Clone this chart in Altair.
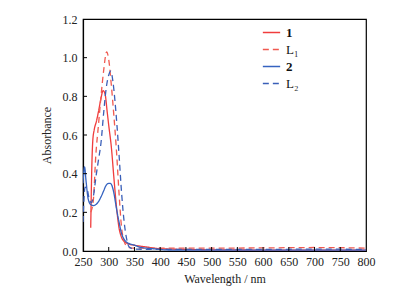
import altair as alt
import pandas as pd

# Series "1" (solid red)
x1 = [265, 267, 269, 272, 276, 280, 285, 289, 293, 297, 300, 305, 310, 315, 320, 325, 330, 335, 340, 350, 375, 400, 450, 500, 600, 700, 800]
y1 = [0.12, 0.42, 0.57, 0.63, 0.67, 0.72, 0.79, 0.83, 0.81, 0.72, 0.65, 0.54, 0.38, 0.23, 0.12, 0.07, 0.05, 0.04, 0.035, 0.03, 0.02, 0.012, 0.008, 0.006, 0.005, 0.005, 0.005]

# Series "L1" (dashed red)
xL1 = [265, 270, 275, 280, 285, 290, 296, 300, 305, 310, 315, 320, 325, 330, 335, 340, 350, 400, 500, 600, 700, 800]
yL1 = [0.2, 0.26, 0.5, 0.65, 0.8, 0.93, 1.03, 0.99, 0.86, 0.7, 0.52, 0.3, 0.12, 0.05, 0.025, 0.018, 0.015, 0.015, 0.015, 0.016, 0.018, 0.015]

# Series "2" (solid blue)
x2 = [250, 253, 256, 260, 265, 270, 275, 280, 285, 290, 295, 300, 303, 306, 310, 315, 320, 325, 330, 335, 340, 350, 360, 385, 420, 500, 600, 700, 800]
y2 = [0.35, 0.435, 0.36, 0.27, 0.24, 0.235, 0.24, 0.255, 0.28, 0.31, 0.34, 0.35, 0.35, 0.34, 0.3, 0.22, 0.15, 0.09, 0.06, 0.045, 0.038, 0.03, 0.02, 0.012, 0.005, 0.005, 0.005, 0.005, 0.005]

# Series "L2" (dashed blue)
xL2 = [250, 254, 258, 262, 266, 270, 275, 280, 285, 290, 295, 300, 304, 308, 312, 316, 320, 325, 330, 335, 340, 350, 400, 500, 600, 700, 800]
yL2 = [0.15, 0.33, 0.32, 0.27, 0.25, 0.28, 0.38, 0.47, 0.56, 0.71, 0.84, 0.91, 0.93, 0.88, 0.78, 0.65, 0.5, 0.3, 0.15, 0.06, 0.02, 0.01, 0.008, 0.008, 0.008, 0.01, 0.008]

series_names = ["1", "L₁", "2", "L₂"]
series_colors = ["#f03c3c", "#f05a50", "#3563c0", "#3a5fb8"]
series_dash = [[1, 0], [6, 4], [1, 0], [6, 4]]

x_labels = [250, 300, 350, 400, 450, 500, 550, 600, 650, 700, 750, 800]
y_labels = [0, 0.2, 0.4, 0.6, 0.8, 1.0, 1.2]
x_ticks = [300, 350, 400, 450, 500, 550, 600, 650, 700, 750]
y_ticks = [0.2, 0.4, 0.6, 0.8, 1.0]

rows = []
for name, xs, ys in [("1", x1, y1), ("L₁", xL1, yL1), ("2", x2, y2), ("L₂", xL2, yL2)]:
    for i, (a, b) in enumerate(zip(xs, ys)):
        rows.append({"series": name, "wl": a, "abs": b, "order": i})
df = pd.DataFrame(rows)

W, H = 283, 232
FONT = "Liberation Serif"

xscale = alt.Scale(domain=[250, 800], nice=False)
yscale = alt.Scale(domain=[0, 1.2], nice=False)

def xaxis():
    return alt.Axis(title="Wavelength / nm", values=x_labels, labelOverlap=False, labelFlush=False,
                    tickSize=0, labelPadding=5, titlePadding=6, grid=False)

def yaxis():
    return alt.Axis(title="Absorbance", values=y_labels, format=".1f", labelOverlap=False, labelFlush=False,
                    tickSize=0, labelPadding=6, titlePadding=9, grid=False)

bold_expr = alt.ExprRef("datum.label == '1' || datum.label == '2' ? 'bold' : 'normal'")

def make_legend():
    return alt.Legend(title=None, orient="none", legendX=179, legendY=4,
                      symbolType="stroke", symbolSize=300, symbolStrokeWidth=1.3,
                      labelFont=FONT, labelFontSize=13, labelOffset=5, rowPadding=0,
                      labelColor="#111", labelFontWeight=bold_expr, padding=0)

lines = alt.Chart(df).mark_line(strokeWidth=1.3, interpolate="monotone", clip=True).encode(
    x=alt.X("wl:Q", scale=xscale, axis=xaxis()),
    y=alt.Y("abs:Q", scale=yscale, axis=yaxis()),
    color=alt.Color("series:N", sort=series_names,
                    scale=alt.Scale(domain=series_names, range=series_colors),
                    legend=make_legend()),
    strokeDash=alt.StrokeDash("series:N", sort=series_names,
                              scale=alt.Scale(domain=series_names, range=series_dash),
                              legend=make_legend()),
    order="order:Q",
)

xt = alt.Chart(pd.DataFrame({"t": x_ticks})).mark_rule(color="black", strokeWidth=1).encode(
    x=alt.X("t:Q", scale=xscale, axis=xaxis()), y=alt.value(H), y2=alt.value(H - 4))
yt = alt.Chart(pd.DataFrame({"t": y_ticks})).mark_rule(color="black", strokeWidth=1).encode(
    y=alt.Y("t:Q", scale=yscale, axis=yaxis()), x=alt.value(0), x2=alt.value(4))

chart = alt.layer(lines, xt, yt).properties(
    width=W, height=H,
    background="white",
    autosize=alt.AutoSizeParams(type="none"),
    padding={"left": 75, "top": 11, "right": 40, "bottom": 37},
).configure_view(stroke="black", strokeWidth=1.2).configure_axis(
    domainColor="black", domainWidth=1.2, labelFont=FONT, labelFontSize=12, labelColor="#222",
    titleFont=FONT, titleFontSize=12, titleFontWeight="normal", titleColor="#222",
)

chart.save("out.html", embed_options={"renderer": "svg", "actions": False})
